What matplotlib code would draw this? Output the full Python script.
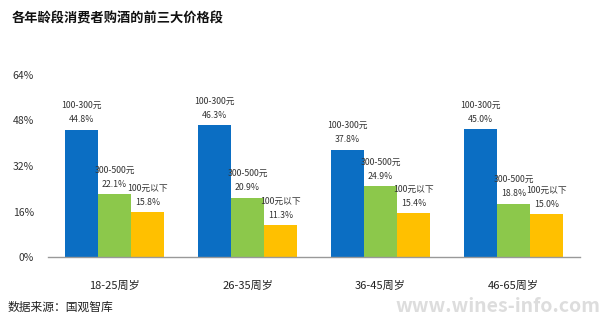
import matplotlib.pyplot as plt
import numpy as np

plt.rcParams['font.family'] = ['Noto Sans CJK SC', 'DejaVu Sans']

# age groups and share of each price band
groups = ['18-25周岁', '26-35周岁', '36-45周岁', '46-65周岁']
bands = ['100-300元', '300-500元', '100元以下']
band_100_300 = [44.8, 46.3, 37.8, 45.0]
band_300_500 = [22.1, 20.9, 24.9, 18.8]
band_below_100 = [15.8, 11.3, 15.4, 15.0]
yticks = [0, 16, 32, 48, 64]

colors = ['#0b6ec3', '#8cc84b', '#ffc000']
series = [band_100_300, band_300_500, band_below_100]

fig = plt.figure(figsize=(6.09, 3.26), dpi=100)
ax = fig.add_axes([48 / 609, 69 / 326, 532 / 609, 182 / 326])

x = np.arange(len(groups))
w = 0.25
for i, (vals, c, name) in enumerate(zip(series, colors, bands)):
    pos = x + (i - 1) * w
    ax.bar(pos, vals, width=w, color=c, zorder=2)
    for px, v in zip(pos, vals):
        ax.text(px, v + 1.8, f'{name}\n{v:.1f}%', ha='center', va='bottom',
                fontsize=6.3, color='#333333', linespacing=1.75)

ax.set_xlim(-0.5, 3.5)
ax.set_ylim(0, 64)
ax.set_yticks(yticks)
ax.set_yticklabels([f'{t}%' for t in yticks], fontsize=7.5, color='#333333')
ax.set_xticks(x)
ax.set_xticklabels(groups, fontsize=8, color='#222222')
ax.tick_params(axis='y', length=0, pad=10)
ax.tick_params(axis='x', length=0, pad=17)

for s in ['top', 'right', 'left']:
    ax.spines[s].set_visible(False)
ax.spines['bottom'].set_color('#999999')
ax.spines['bottom'].set_linewidth(1)

fig.text(12 / 609, 1 - 19 / 326, '各年龄段消费者购酒的前三大价格段',
         fontsize=9.5, fontweight='bold', color='#111111', va='center')
fig.text(8 / 609, 1 - 307 / 326, '数据来源：国观智库',
         fontsize=8.5, color='#222222', va='center')
fig.text(600 / 609, 1 - 306 / 326, 'www.wines-info.com',
         fontsize=14, color='#dddddd', va='center', ha='right',
         fontweight='bold')

fig.savefig('out.png', dpi=100)
